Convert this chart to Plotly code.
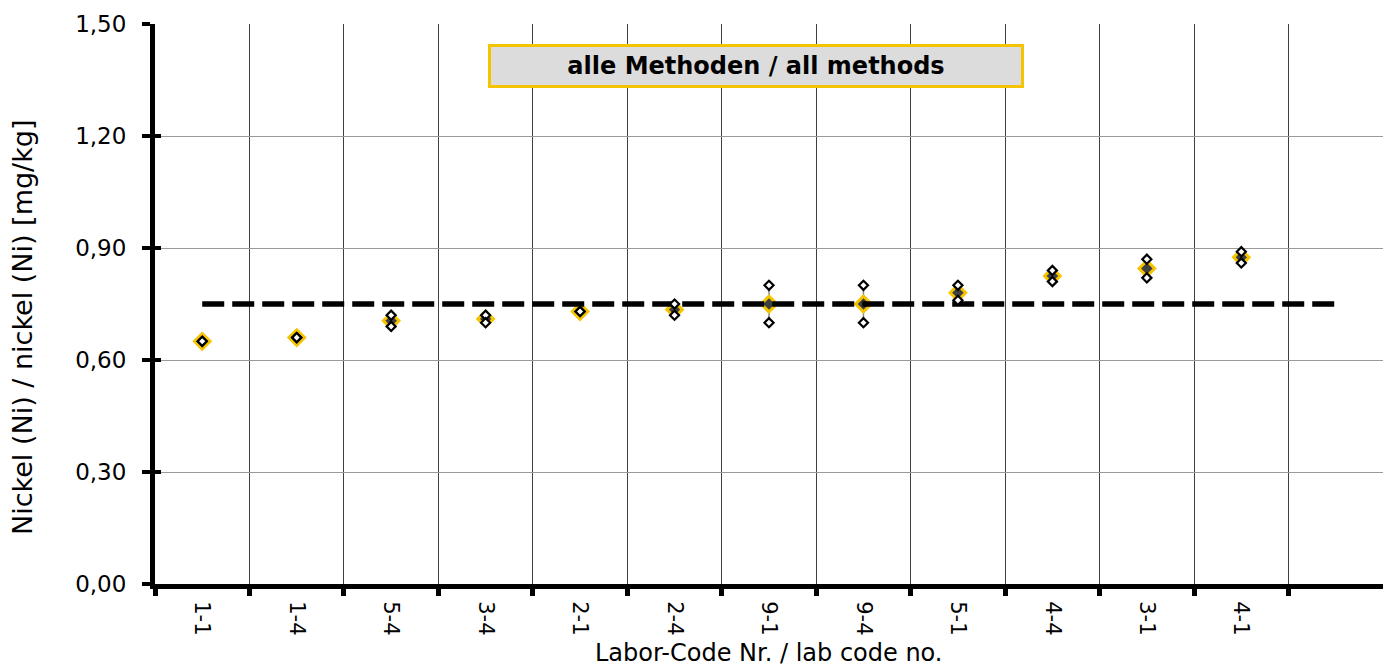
import plotly.graph_objects as go

labs = ["1-1", "1-4", "5-4", "3-4", "2-1", "2-4", "9-1", "9-4", "5-1", "4-4", "3-1", "4-1"]
value_a = [0.65, 0.66, 0.72, 0.72, 0.73, 0.75, 0.80, 0.80, 0.80, 0.84, 0.87, 0.89]
value_b = [0.65, 0.66, 0.69, 0.70, 0.73, 0.72, 0.70, 0.70, 0.76, 0.81, 0.82, 0.86]
means = [0.65, 0.66, 0.705, 0.71, 0.73, 0.735, 0.75, 0.75, 0.78, 0.825, 0.845, 0.875]
reference_value = 0.75
y_ticks = [0.0, 0.3, 0.6, 0.9, 1.2, 1.5]

xpos = list(range(len(labs)))
hi = [max(a, b) for a, b in zip(value_a, value_b)]
lo = [min(a, b) for a, b in zip(value_a, value_b)]

FONT = "DejaVu Sans, Liberation Sans, sans-serif"
GOLD = "#f5c400"

fig = go.Figure()

# mean with range bars
fig.add_trace(go.Scatter(
    x=xpos, y=means, mode="markers",
    marker=dict(symbol="diamond", size=12, color="#404040", line=dict(color=GOLD, width=3)),
    error_y=dict(type="data", symmetric=False,
                 array=[h - m for h, m in zip(hi, means)],
                 arrayminus=[m - l for m, l in zip(means, lo)],
                 color="#8a8a8a", thickness=1.5, width=0),
    showlegend=False, hoverinfo="skip"))

# reference dashed line
fig.add_trace(go.Scatter(
    x=[0, len(labs)], y=[reference_value, reference_value], mode="lines",
    line=dict(color="black", width=5.5, dash="22px,8px"),
    showlegend=False, hoverinfo="skip"))

# individual values
fig.add_trace(go.Scatter(
    x=xpos + xpos, y=value_a + value_b, mode="markers",
    marker=dict(symbol="diamond", size=7, color="white", line=dict(color="black", width=2.2)),
    showlegend=False, hoverinfo="skip"))

# invisible trace on overlay axis (for crossing y ticks)
fig.add_trace(go.Scatter(x=[0], y=[0], yaxis="y2", mode="markers",
                         marker=dict(opacity=0), showlegend=False, hoverinfo="skip"))

fig.update_layout(
    width=1383, height=668,
    margin=dict(l=155, r=0, t=24, b=84),
    paper_bgcolor="white", plot_bgcolor="white",
    separators=", ",
    font=dict(family=FONT, color="black", size=20),
    xaxis=dict(
        range=[-0.5, len(labs) + 0.5],
        tickmode="array", tickvals=xpos, ticktext=labs,
        tickangle=90, ticks="", showgrid=False, zeroline=False,
        showline=True, linecolor="black", linewidth=5,
        tickfont=dict(size=21, family=FONT),
        ticklabelstandoff=8,
        minor=dict(tickmode="array",
                   tickvals=[i + 0.5 for i in range(-1, len(labs))],
                   ticks="outside", ticklen=7, tickwidth=5, tickcolor="black",
                   showgrid=True, gridcolor="#404040", gridwidth=1),
        automargin=False,
    ),
    yaxis=dict(
        range=[0, 1.5], tickmode="array", tickvals=y_ticks, tickformat=".2f",
        ticks="outside", ticklen=8, tickwidth=4, tickcolor="black",
        showgrid=True, gridcolor="#9a9a9a", gridwidth=1, zeroline=False,
        showline=True, linecolor="black", linewidth=5,
        tickfont=dict(size=23, family=FONT),
        ticklabelstandoff=11,
        automargin=False,
    ),
    yaxis2=dict(
        overlaying="y", side="left", range=[0, 1.5], tickmode="array", tickvals=y_ticks,
        ticks="inside", ticklen=6, tickwidth=4, tickcolor="black",
        showticklabels=False, showgrid=False, zeroline=False, showline=False,
        automargin=False,
    ),
    annotations=[
        dict(text="<b>alle Methoden / all methods</b>", xref="paper", yref="paper",
             x=(756 - 155) / 1228, y=(584 - 66) / 560, showarrow=False,
             font=dict(size=24, family=FONT, color="black"),
             bgcolor="#dcdcdc", bordercolor=GOLD, borderwidth=3,
             width=528, height=36, align="center", xanchor="center", yanchor="middle"),
        dict(text="Nickel (Ni) / nickel (Ni) [mg/kg]", xref="paper", yref="paper",
             x=0, y=(584 - 327) / 560, xshift=-133, textangle=-90, showarrow=False,
             font=dict(size=27, family=FONT), xanchor="center", yanchor="middle"),
        dict(text="Labor-Code Nr. / lab code no.", xref="paper", yref="paper",
             x=(769 - 155) / 1228, y=0, yshift=-69, showarrow=False, borderpad=0,
             font=dict(size=24, family=FONT), xanchor="center", yanchor="middle"),
    ],
)

fig.write_html("out.html")
